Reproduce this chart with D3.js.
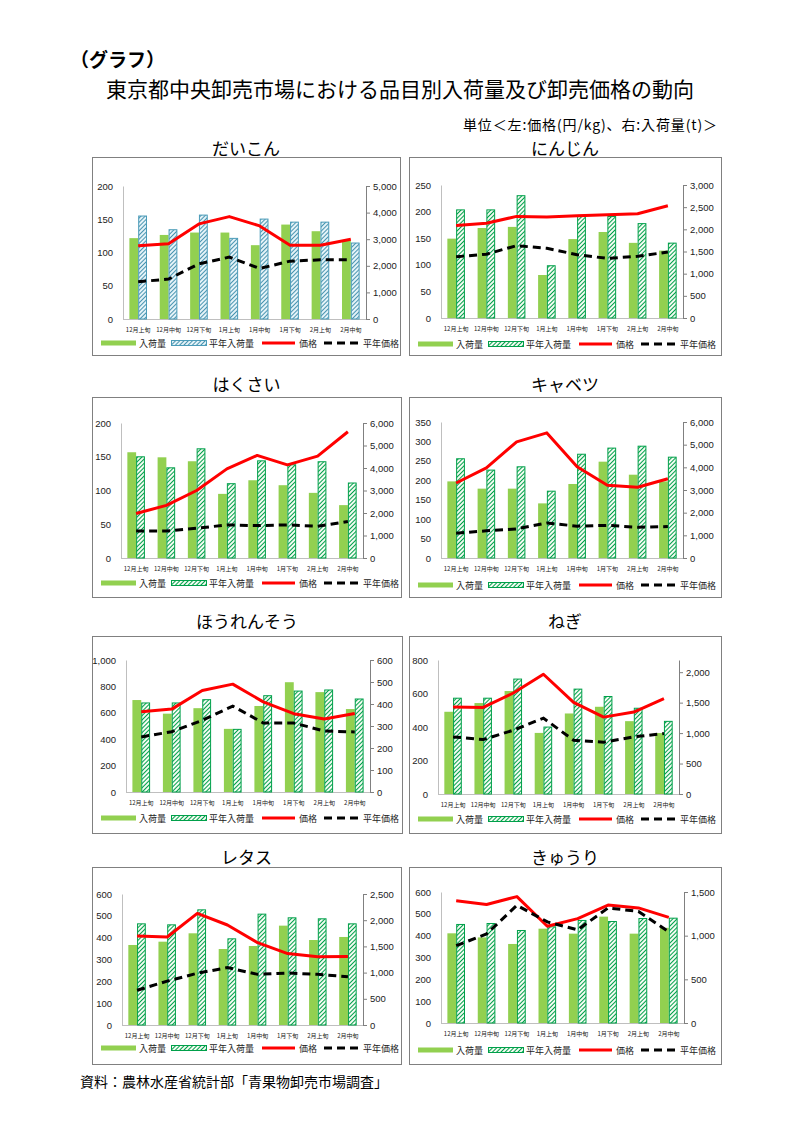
<!DOCTYPE html>
<html><head><meta charset="utf-8">
<script src="https://cdn.jsdelivr.net/npm/d3@7"></script>
<style>body{margin:0;background:#fff}svg{display:block}</style>
</head><body>
<svg id="c" width="794" height="1123"></svg>
<script>
// ---------- DATA ----------
const categories = ["12月上旬","12月中旬","12月下旬","1月上旬","1月中旬","1月下旬","2月上旬","2月中旬"];
const legendLabels = ["入荷量","平年入荷量","価格","平年価格"];
const vegNames = ["だいこん","にんじん","はくさい","キャベツ","ほうれんそう","ねぎ","レタス","きゅうり"];

// 入荷量 (t, right axis), 平年入荷量, 価格 (円/kg, left axis), 平年価格
const daikonVolume    = [3040,3160,3250,3250,2775,3550,3300,2950];
const daikonAvgVolume = [3890,3375,3925,3050,3775,3660,3660,2875];
const daikonPrice     = [110,113,143,154,140,111,111,120];
const daikonAvgPrice  = [56,60,83,93,76,87,89,89];

const ninjinVolume    = [1790,2030,2055,970,1780,1940,1695,1520];
const ninjinAvgVolume = [2450,2450,2770,1190,2300,2300,2140,1700];
const ninjinPrice     = [174,178,191,190,192,194,196,211];
const ninjinAvgPrice  = [115,120,136,131,119,112,116,124];

const hakusaiVolume    = [4700,4475,4300,2850,3455,3235,2895,2350];
const hakusaiAvgVolume = [4520,4030,4875,3325,4340,4165,4300,3355];
const hakusaiPrice     = [66,78,100,132,152,138,151,187];
const hakusaiAvgPrice  = [40,40,44,49,48,49,47,54];

const cabbageVolume    = [3380,3060,3060,2410,3265,4250,3675,3380];
const cabbageAvgVolume = [4400,3900,4045,2970,4600,4870,4955,4470];
const cabbagePrice     = [193,232,299,322,235,187,182,204];
const cabbageAvgPrice  = [64,70,75,90,82,84,79,81];

const spinachVolume    = [418,356,381,287,391,499,454,377];
const spinachAvgVolume = [407,407,422,287,440,461,466,425];
const spinachPrice     = [608,628,769,817,683,593,553,595];
const spinachAvgPrice  = [417,457,543,651,523,523,462,455];

const negiVolume    = [1350,1493,1691,1003,1322,1432,1196,1000];
const negiAvgVolume = [1581,1581,1895,1107,1730,1609,1416,1201];
const negiPrice     = [519,517,603,715,547,459,489,569];
const negiAvgPrice  = [341,325,381,453,321,309,341,361];

const lettuceVolume    = [1527,1590,1750,1450,1508,1896,1622,1680];
const lettuceAvgVolume = [1940,1921,2207,1654,2125,2055,2036,1940];
const lettucePrice     = [408,403,511,458,377,327,313,314];
const lettuceAvgPrice  = [159,201,237,263,232,238,232,221];

const cucumberVolume    = [1027,980,905,1080,1023,1218,1023,1090];
const cucumberAvgVolume = [1134,1145,1065,1107,1180,1168,1202,1206];
const cucumberPrice     = [560,543,579,443,478,540,527,484];
const cucumberAvgPrice  = [354,408,539,463,427,527,511,418];

// axis ranges (tick labels)
const leftAxisMax   = [200,250,200,350,1000,800,600,600];
const leftAxisStep  = [50,50,50,50,200,200,100,100];
const rightAxisMax  = [5000,3000,6000,6000,600,2200,2500,1500];
const rightAxisStep = [1000,500,1000,1000,100,500,500,500];

const seriesByVeg = [
  [daikonVolume, daikonAvgVolume, daikonPrice, daikonAvgPrice],
  [ninjinVolume, ninjinAvgVolume, ninjinPrice, ninjinAvgPrice],
  [hakusaiVolume, hakusaiAvgVolume, hakusaiPrice, hakusaiAvgPrice],
  [cabbageVolume, cabbageAvgVolume, cabbagePrice, cabbageAvgPrice],
  [spinachVolume, spinachAvgVolume, spinachPrice, spinachAvgPrice],
  [negiVolume, negiAvgVolume, negiPrice, negiAvgPrice],
  [lettuceVolume, lettuceAvgVolume, lettucePrice, lettuceAvgPrice],
  [cucumberVolume, cucumberAvgVolume, cucumberPrice, cucumberAvgPrice]
];

// ---------- LAYOUT ----------
const layout = [
  {x:92, y:157, w:308, h:198, ty:147, pl:123, pr:366, pt:186, pb:319, ly:343, hatch:"blue"},
  {x:409,y:157, w:312, h:198, ty:147, pl:441, pr:683, pt:185, pb:318, ly:344, hatch:"green"},
  {x:92, y:397, w:309, h:200, ty:383, pl:121, pr:363, pt:423, pb:558, ly:583, hatch:"green"},
  {x:409,y:397, w:312, h:200, ty:383, pl:441, pr:683, pt:422, pb:558, ly:585, hatch:"green"},
  {x:92, y:636, w:310, h:197, ty:620, pl:126, pr:370, pt:660, pb:792, ly:818, hatch:"green"},
  {x:409,y:636, w:312, h:197, ty:620, pl:438, pr:679, pt:660, pb:794, ly:819, hatch:"green"},
  {x:92, y:867, w:309, h:197, ty:856, pl:122, pr:363, pt:894, pb:1025, ly:1048, hatch:"green"},
  {x:409,y:867, w:312, h:197, ty:856, pl:441, pr:684, pt:892, pb:1023, ly:1050, hatch:"green"}
];

const JP = "'Noto Sans CJK JP','Noto Sans',sans-serif";
const NUM = "'Liberation Sans','Noto Sans',Arial,sans-serif";
const GREEN = "#92D050";
const hatchStyles = {
  blue:  {bg:"#e4f3f8", line:"#4a94b0", border:"#4a9bb8"},
  green: {bg:"#f4fbf2", line:"#00a04a", border:"#00a04a"}
};

const svg = d3.select("#c");
svg.append("rect").attr("width",794).attr("height",1123).attr("fill","#fff");

const defs = svg.append("defs");
Object.entries(hatchStyles).forEach(([k,s])=>{
  const p = defs.append("pattern").attr("id","hatch-"+k)
    .attr("patternUnits","userSpaceOnUse").attr("width",3).attr("height",3)
    .attr("patternTransform","rotate(45)");
  p.append("rect").attr("width",3).attr("height",3).attr("fill",s.bg);
  p.append("line").attr("x1",0.5).attr("y1",0).attr("x2",0.5).attr("y2",3)
    .attr("stroke",s.line).attr("stroke-width",1);
});

// ---------- HEADER ----------
svg.append("text").attr("x",70).attr("y",58).attr("dominant-baseline","central")
  .attr("font-family",JP).attr("font-weight","bold").attr("font-size",19).attr("fill","#000")
  .text("（グラフ）");
svg.append("text").attr("x",106).attr("y",88).attr("dominant-baseline","central")
  .attr("font-family",JP).attr("font-size",21).attr("fill","#000")
  .text("東京都中央卸売市場における品目別入荷量及び卸売価格の動向");
svg.append("text").attr("x",717).attr("y",124).attr("dominant-baseline","central")
  .attr("text-anchor","end").attr("font-family",JP).attr("font-size",14).attr("fill","#000")
  .attr("textLength",254).attr("lengthAdjust","spacing")
  .text("単位＜左:価格(円/kg)、右:入荷量(t)＞");
svg.append("text").attr("x",80).attr("y",1081).attr("dominant-baseline","central")
  .attr("font-family",JP).attr("font-size",14).attr("fill","#000")
  .text("資料：農林水産省統計部「青果物卸売市場調査」");

// ---------- PANELS ----------
layout.forEach((L,i)=>{
  const [vol, avgVol, price, avgPrice] = seriesByVeg[i];
  const hs = hatchStyles[L.hatch];
  const g = svg.append("g");

  g.append("rect").attr("x",L.x+0.5).attr("y",L.y+0.5).attr("width",L.w).attr("height",L.h)
    .attr("fill","#fff").attr("stroke","#808080").attr("stroke-width",1);

  svg.append("text").attr("x",L.x+L.w/2).attr("y",L.ty).attr("text-anchor","middle")
    .attr("dominant-baseline","central").attr("font-family",JP).attr("font-size",17)
    .text(vegNames[i]);

  const x = d3.scaleBand().domain(categories).range([L.pl, L.pr]);
  const yL = d3.scaleLinear().domain([0,leftAxisMax[i]]).range([L.pb, L.pt]);
  const yR = d3.scaleLinear().domain([0,rightAxisMax[i]]).range([L.pb, L.pt]);
  const bw = x.bandwidth()*0.29;
  const cx = c => x(c) + x.bandwidth()/2;

  // axes
  const la = g.append("g").attr("transform",`translate(${L.pl},0)`)
    .call(d3.axisLeft(yL).tickValues(d3.range(0,leftAxisMax[i]+0.1,leftAxisStep[i]))
      .tickSize(0).tickPadding(10).tickFormat(d3.format(",")));
  la.select(".domain").attr("stroke","#bfbfbf");
  la.selectAll("text").attr("font-family",NUM).attr("font-size",9.5).attr("fill","#222");

  const rTicks = d3.range(0,rightAxisMax[i]+0.1,rightAxisStep[i]);
  const ra = g.append("g").attr("transform",`translate(${L.pr},0)`)
    .call(d3.axisRight(yR).tickValues(rTicks).tickSizeInner(4).tickSizeOuter(0).tickPadding(3)
      .tickFormat(d3.format(",")));
  ra.select(".domain").attr("stroke","#808080");
  ra.selectAll("line").attr("stroke","#808080");
  ra.selectAll("text").attr("font-family",NUM).attr("font-size",9.5).attr("fill","#222");

  g.append("line").attr("x1",L.pl).attr("x2",L.pr).attr("y1",L.pb+0.5).attr("y2",L.pb+0.5)
    .attr("stroke","#bfbfbf");

  g.selectAll(".xl").data(categories).join("text")
    .attr("x",d=>cx(d)).attr("y",L.pb+10).attr("text-anchor","middle")
    .attr("dominant-baseline","central").attr("font-family",JP).attr("font-size",6)
    .attr("fill","#222").text(d=>d);

  // bars
  g.selectAll(".b1").data(categories).join("rect")
    .attr("x",d=>cx(d)-bw).attr("width",bw)
    .attr("y",(d,j)=>yR(vol[j])).attr("height",(d,j)=>L.pb-yR(vol[j]))
    .attr("fill",GREEN);
  g.selectAll(".b2").data(categories).join("rect")
    .attr("x",d=>cx(d)+0.5).attr("width",bw-1)
    .attr("y",(d,j)=>yR(avgVol[j])+0.5).attr("height",(d,j)=>L.pb-yR(avgVol[j])-0.5)
    .attr("fill",`url(#hatch-${L.hatch})`).attr("stroke",hs.border).attr("stroke-width",1);

  // lines
  const line = d3.line().x((d,j)=>cx(categories[j])).y(d=>yL(d));
  g.append("path").datum(price).attr("d",line).attr("fill","none")
    .attr("stroke","#ff0000").attr("stroke-width",3).attr("stroke-linejoin","round");
  g.append("path").datum(avgPrice).attr("d",line).attr("fill","none")
    .attr("stroke","#000").attr("stroke-width",3).attr("stroke-dasharray","8,5");

  // legend
  const lg = g.append("g").attr("transform",`translate(${L.x},${L.ly})`);
  lg.append("rect").attr("x",9).attr("y",-2.5).attr("width",35).attr("height",5).attr("fill",GREEN);
  lg.append("rect").attr("x",79.5).attr("y",-2.5).attr("width",35).attr("height",5)
    .attr("fill",`url(#hatch-${L.hatch})`).attr("stroke",hs.border).attr("stroke-width",1);
  lg.append("line").attr("x1",170).attr("x2",203).attr("y1",0).attr("y2",0)
    .attr("stroke","#ff0000").attr("stroke-width",3);
  lg.append("line").attr("x1",232).attr("x2",266).attr("y1",0).attr("y2",0)
    .attr("stroke","#000").attr("stroke-width",3).attr("stroke-dasharray","8,5");
  const tx = [47,117,207,271];
  lg.selectAll(".lt").data(legendLabels).join("text")
    .attr("x",(d,j)=>tx[j]).attr("y",0).attr("dominant-baseline","central")
    .attr("font-family",JP).attr("font-size",9).attr("fill","#222").text(d=>d);
});
</script>
</body></html>
